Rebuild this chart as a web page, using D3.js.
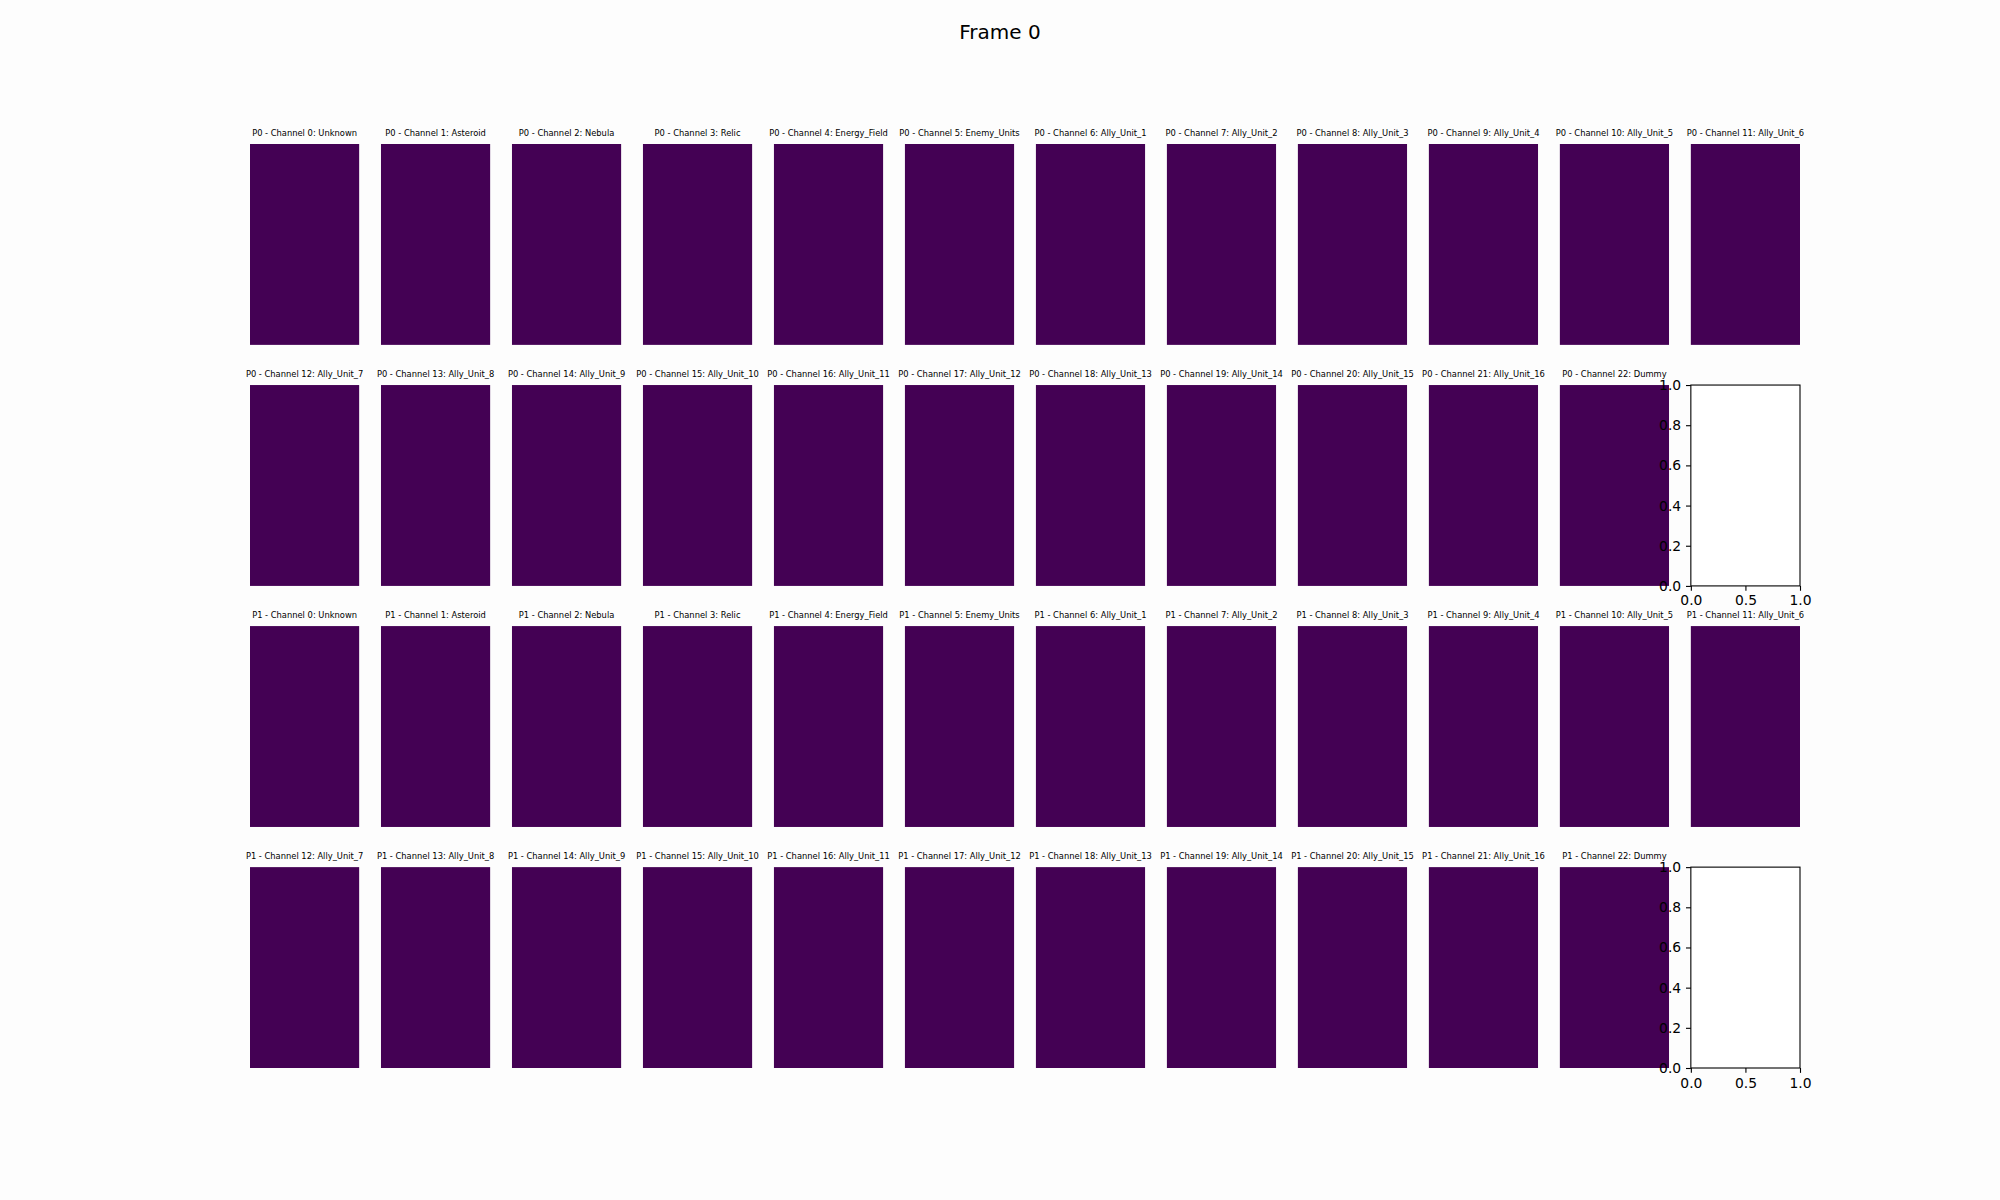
<!DOCTYPE html>
<html><head><meta charset="utf-8">
<script src="https://cdn.jsdelivr.net/npm/d3@7"></script>
<style>html,body{margin:0;padding:0;background:#fdfdfd;} svg{display:block;}</style>
</head><body>
<script>
const figTitle = "Frame 0";
const players = ["P0", "P1"];
const channels = ["Unknown","Asteroid","Nebula","Relic","Energy_Field","Enemy_Units",
  "Ally_Unit_1","Ally_Unit_2","Ally_Unit_3","Ally_Unit_4","Ally_Unit_5","Ally_Unit_6",
  "Ally_Unit_7","Ally_Unit_8","Ally_Unit_9","Ally_Unit_10","Ally_Unit_11","Ally_Unit_12",
  "Ally_Unit_13","Ally_Unit_14","Ally_Unit_15","Ally_Unit_16","Dummy"];
// every channel map in frame 0 is uniformly zero
const p0Values = [0,0,0,0,0,0,0,0,0,0,0,0,0,0,0,0,0,0,0,0,0,0,0];
const p1Values = [0,0,0,0,0,0,0,0,0,0,0,0,0,0,0,0,0,0,0,0,0,0,0];
const emptyYTicks = [0,0.2,0.4,0.6,0.8,1.0];
const emptyXTicks = [0,0.5,1.0];

const W = 2000, H = 1200;
const nCols = 12, nRows = 4;
const svg = d3.select("body").append("svg").attr("width", W).attr("height", H)
  .style("font-family", "'DejaVu Sans', sans-serif");
svg.append("rect").attr("width", W).attr("height", H).attr("fill", "#fdfdfd");

const colX = d3.scaleBand().domain(d3.range(nCols)).range([0.125*W, 0.9*W]).paddingInner(0.2/1.2).paddingOuter(0);
const rowY = d3.scaleBand().domain(d3.range(nRows)).range([0.12*H, 0.89*H]).paddingInner(0.2/1.2).paddingOuter(0);
const color = d3.scaleSequential(d3.interpolateViridis).domain([0, 1]);

svg.append("text").attr("x", W/2).attr("y", 39).attr("text-anchor", "middle")
  .attr("font-size", 20).attr("fill", "#000").text(figTitle);

const allValues = [p0Values, p1Values];
const cells = [];
players.forEach((p, pi) => {
  channels.forEach((c, ci) => {
    const slot = ci;
    cells.push({player: p, idx: ci, name: c, value: allValues[pi][ci],
      col: slot % nCols, row: pi*2 + Math.floor(slot / nCols)});
  });
});

const bw = colX.bandwidth(), bh = rowY.bandwidth();
const g = svg.append("g");
cells.forEach(d => {
  const x0 = colX(d.col), y0 = rowY(d.row);
  g.append("rect").attr("x", x0).attr("y", y0).attr("width", bw).attr("height", bh)
    .attr("fill", color(d.value));
  g.append("text").attr("x", x0 + bw/2).attr("y", y0 - 8.3).attr("text-anchor", "middle")
    .attr("font-size", 8.33).attr("fill", "#000")
    .text(`${d.player} - Channel ${d.idx}: ${d.name}`);
});

// empty axes in the last slot of each player's block
players.forEach((p, pi) => {
  const slot = channels.length;
  const col = slot % nCols, row = pi*2 + Math.floor(slot / nCols);
  const x0 = colX(col), y0 = rowY(row);
  const ax = svg.append("g");
  ax.append("rect").attr("x", x0).attr("y", y0).attr("width", bw).attr("height", bh).attr("fill", "#fff");
  const xs = d3.scaleLinear().domain([0,1]).range([x0, x0 + bw]);
  const ys = d3.scaleLinear().domain([0,1]).range([y0 + bh, y0]);
  const xa = ax.append("g").attr("transform", `translate(0,${y0 + bh})`)
    .call(d3.axisBottom(xs).tickValues(emptyXTicks).tickFormat(d3.format(".1f")).tickSize(4.86).tickPadding(4.86).tickSizeOuter(0));
  const ya = ax.append("g").attr("transform", `translate(${x0},0)`)
    .call(d3.axisLeft(ys).tickValues(emptyYTicks).tickFormat(d3.format(".1f")).tickSize(4.86).tickPadding(4.86).tickSizeOuter(0));
  [xa, ya].forEach(a => {
    a.select(".domain").remove();
    a.selectAll("line").attr("stroke", "#000").attr("stroke-width", 1.1);
    a.selectAll("text").attr("font-size", 13.89).attr("fill", "#000").style("font-family", "'DejaVu Sans', sans-serif");
  });
  ax.append("rect").attr("x", x0).attr("y", y0).attr("width", bw).attr("height", bh)
    .attr("fill", "none").attr("stroke", "#000").attr("stroke-width", 1.1);
});
</script>
</body></html>
